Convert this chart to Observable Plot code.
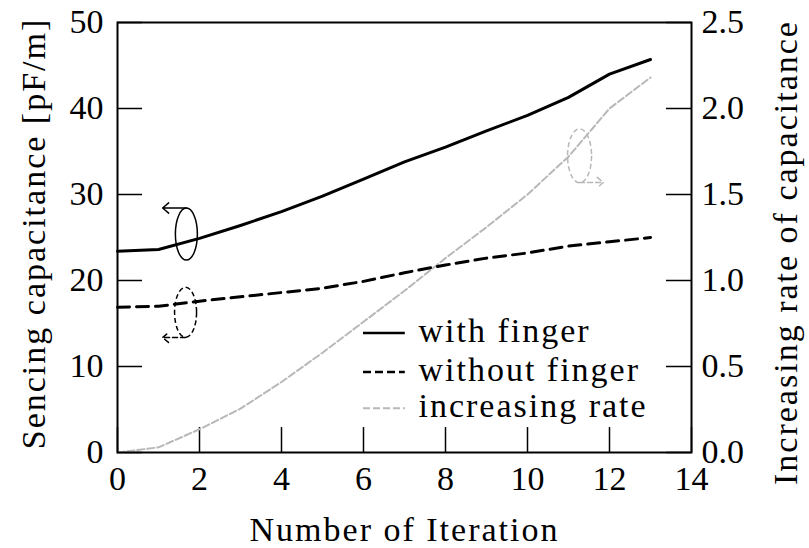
<!DOCTYPE html>
<html>
<head>
<meta charset="utf-8">
<script src="https://cdn.jsdelivr.net/npm/d3@7"></script>
<script src="https://cdn.jsdelivr.net/npm/@observablehq/plot@0.6"></script>
<style>
  body { margin: 0; background: #fff; }
  #chart svg, #chart svg text { font-family: "Liberation Serif", serif; font-size: 34px; }
</style>
</head>
<body>
<div id="chart"></div>
<script>
// Sensing capacitance per iteration, with and without a finger, plus its increasing rate
const iterations     = [0, 1, 2, 3, 4, 5, 6, 7, 8, 9, 10, 11, 12, 13];
const withFinger     = [23.4, 23.6, 24.9, 26.4, 28.0, 29.8, 31.8, 33.8, 35.5, 37.4, 39.2, 41.3, 44.0, 45.7];
const withoutFinger  = [16.9, 17.0, 17.6, 18.1, 18.6, 19.1, 19.9, 20.9, 21.8, 22.6, 23.2, 24.0, 24.5, 25.0];
const increasingRate = [0.0, 0.03, 0.135, 0.255, 0.41, 0.58, 0.76, 0.94, 1.13, 1.31, 1.50, 1.72, 2.00, 2.18];

const xTicks     = [0, 2, 4, 6, 8, 10, 12, 14];
const leftTicks  = [0, 10, 20, 30, 40, 50];
const rightTicks = [0.0, 0.5, 1.0, 1.5, 2.0, 2.5];

const seriesNames = ["with finger", "without finger", "increasing rate"];

// the rate axis (0–2.5) shares the plot with the capacitance axis (0–50)
const rateToCap = 50 / 2.5;

const rows = iterations.map((it, i) => ({
  it,
  withFinger: withFinger[i],
  withoutFinger: withoutFinger[i],
  rate: increasingRate[i]
}));

// open ellipse drawn as a dot symbol (rx, ry in pixels)
function ellipseSymbol(rx, ry) {
  const k = 0.5523;
  return {
    draw(ctx) {
      ctx.moveTo(rx, 0);
      ctx.bezierCurveTo(rx, k * ry, k * rx, ry, 0, ry);
      ctx.bezierCurveTo(-k * rx, ry, -rx, k * ry, -rx, 0);
      ctx.bezierCurveTo(-rx, -k * ry, -k * rx, -ry, 0, -ry);
      ctx.bezierCurveTo(k * rx, -ry, rx, -k * ry, rx, 0);
      ctx.closePath();
    }
  };
}

const one = [0];
const gray = "#b8b8b8";
const solidStyle = {stroke: "black", strokeWidth: 3};
const dashStyle  = {stroke: "black", strokeWidth: 3, strokeDasharray: "12,7"};
const rateStyle  = {stroke: gray, strokeWidth: 2, strokeDasharray: "7,3"};

const chart = Plot.plot({
  width: 809,
  height: 548,
  marginLeft: 117,
  marginRight: 118,
  marginTop: 22,
  marginBottom: 96,
  style: "background: white; color: black;",
  x: {domain: [0, 14]},
  y: {domain: [0, 50]},
  marks: [
    // tick labels
    Plot.axisX(xTicks, {tickSize: 0, tickPadding: 13, label: null}),
    Plot.axisY(leftTicks, {anchor: "left", tickSize: 0, tickPadding: 14, label: null}),
    Plot.axisY(rightTicks.map(v => v * rateToCap), {
      anchor: "right", tickSize: 0, tickPadding: 10, label: null,
      tickFormat: d => (d / rateToCap).toFixed(1)
    }),
    // inward ticks
    Plot.ruleX(xTicks, {y1: 0, y2: 2.9, stroke: "black", strokeWidth: 1.5}),
    Plot.ruleY(leftTicks, {x1: 0, x2: 0.61, stroke: "black", strokeWidth: 1.5}),
    Plot.ruleY(rightTicks, {y: d => d * rateToCap, x1: 14 - 0.61, x2: 14, stroke: "black", strokeWidth: 1.5}),

    // series
    Plot.line(rows, {x: "it", y: d => d.rate * rateToCap, ...rateStyle}),
    Plot.line(rows, {x: "it", y: "withoutFinger", ...dashStyle}),
    Plot.line(rows, {x: "it", y: "withFinger", ...solidStyle}),

    // axis-pointing loops
    Plot.dot(one, {x: 1.68, y: 25.4, symbol: ellipseSymbol(11, 26), r: 1, fill: "none", stroke: "black", strokeWidth: 1.5}),
    Plot.arrow(one, {x1: 1.68, y1: 28.43, x2: 1.1, y2: 28.43, stroke: "black", strokeWidth: 1.5, headLength: 9, headAngle: 80}),
    Plot.dot(one, {x: 1.66, y: 16.3, symbol: ellipseSymbol(11, 25), r: 1, fill: "none", stroke: "black", strokeWidth: 1.5, strokeDasharray: "5,3"}),
    Plot.arrow(one, {x1: 1.66, y1: 13.37, x2: 1.1, y2: 13.37, stroke: "black", strokeWidth: 1.5, strokeDasharray: "5,3", headLength: 9, headAngle: 80}),
    Plot.dot(one, {x: 11.27, y: 34.5, symbol: ellipseSymbol(12, 27), r: 1, fill: "none", stroke: gray, strokeWidth: 1.5, strokeDasharray: "5,3"}),
    Plot.arrow(one, {x1: 11.27, y1: 31.4, x2: 11.85, y2: 31.4, stroke: gray, strokeWidth: 1.5, strokeDasharray: "5,3", headLength: 9, headAngle: 80}),

    // legend
    Plot.ruleY([13.9], {x1: 6.0, x2: 7.02, ...solidStyle, strokeWidth: 2.5}),
    Plot.ruleY([9.35], {x1: 6.0, x2: 7.02, ...dashStyle, strokeWidth: 2.5, strokeDasharray: "8,4"}),
    Plot.ruleY([5.15], {x1: 6.0, x2: 7.02, ...rateStyle}),
    Plot.text(seriesNames, {
      x: 7.34, y: (d, i) => [13.9, 9.35, 5.15][i], text: d => d,
      textAnchor: "start", lineAnchor: "middle", dy: -2, fill: "black"
    }),

    // axis titles
    Plot.text(["Number of Iteration"], {frameAnchor: "bottom", textAnchor: "middle", lineAnchor: "bottom", dy: 88, text: d => d, fill: "black"}),
    Plot.text(["Sencing capacitance [pF/m]"], {frameAnchor: "left", rotate: -90, textAnchor: "middle", lineAnchor: "middle", dx: -83, dy: -4, text: d => d, fill: "black"}),
    Plot.text(["Increasing rate of capacitance"], {frameAnchor: "right", rotate: -90, textAnchor: "middle", lineAnchor: "middle", dx: 95, dy: 15, text: d => d, fill: "black"}),

    Plot.frame({stroke: "black", strokeWidth: 2})
  ]
});

// wider set for the running text
d3.select(chart).selectAll("g[aria-label='text'] text").attr("letter-spacing", "2px");

document.getElementById("chart").appendChild(chart);
</script>
</body>
</html>
